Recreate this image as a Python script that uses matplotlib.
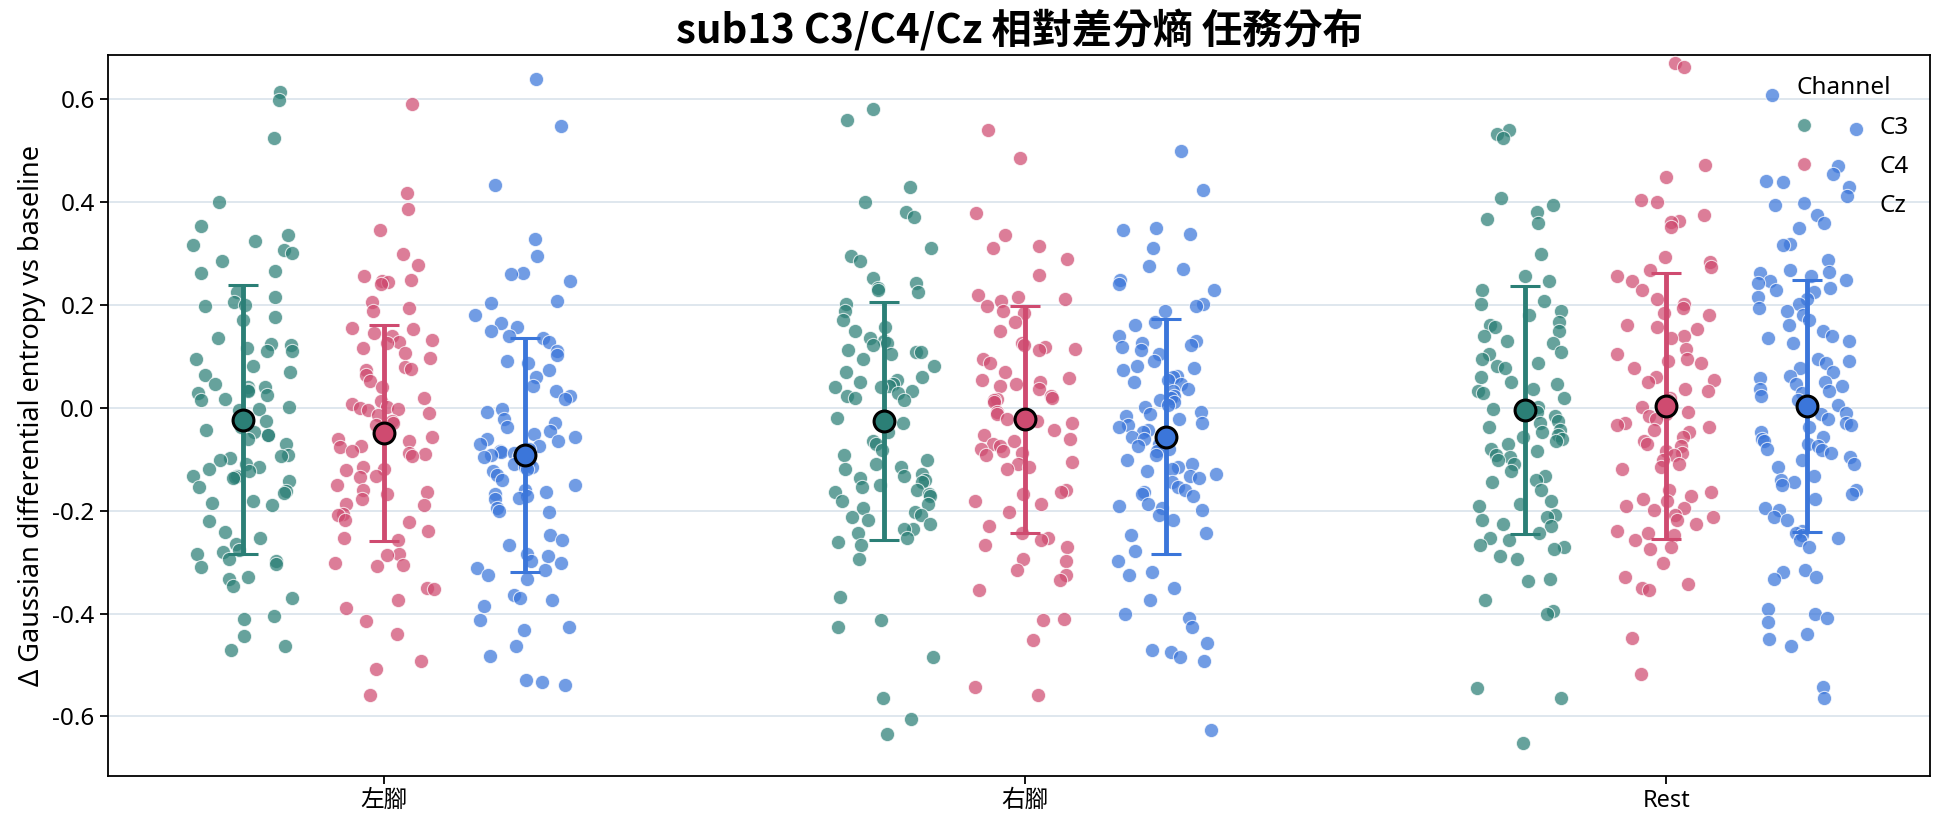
import matplotlib
matplotlib.use('Agg')
import matplotlib.pyplot as plt
from matplotlib.lines import Line2D
import numpy as np

plt.rcParams['font.family'] = ['Noto Sans', 'Noto Sans CJK TC', 'DejaVu Sans']
plt.rcParams['axes.unicode_minus'] = False

tasks = ['左腳', '右腳', 'Rest']
channels = ['C3', 'C4', 'Cz']
colors = {'C3': '#2b7f76', 'C4': '#cf4b70', 'Cz': '#3b76da'}

# values, one list per task/channel
lf_c3 = [0.615, 0.598, 0.524, 0.40, 0.354, 0.336, 0.325, 0.316, 0.307, 0.302, 0.285, 0.267, 0.262, 0.225,
         0.216, 0.205, 0.20, 0.198, 0.176, 0.171, 0.136, 0.124, 0.122, 0.116, 0.111, 0.111, 0.095, 0.082,
         0.07, 0.064, 0.046, 0.04, 0.04, 0.035, 0.033, 0.029, 0.026, 0.017, 0.015, 0.002, -0.003, -0.004,
         -0.025, -0.038, -0.043, -0.047, -0.052, -0.052, -0.06, -0.07, -0.092, -0.094, -0.097, -0.101,
         -0.11, -0.114, -0.119, -0.123, -0.132, -0.132, -0.135, -0.136, -0.143, -0.154, -0.161, -0.165,
         -0.181, -0.185, -0.188, -0.219, -0.242, -0.252, -0.264, -0.277, -0.281, -0.284, -0.293, -0.297,
         -0.304, -0.31, -0.328, -0.333, -0.346, -0.37, -0.404, -0.411, -0.444, -0.462, -0.471]
lf_c4 = [0.591, 0.417, 0.387, 0.345, 0.30, 0.278, 0.256, 0.249, 0.247, 0.245, 0.24, 0.205, 0.194, 0.189,
         0.155, 0.153, 0.145, 0.14, 0.133, 0.129, 0.127, 0.116, 0.106, 0.097, 0.079, 0.076, 0.073, 0.064,
         0.053, 0.04, 0.02, 0.013, 0.008, 0.002, -0.001, -0.003, -0.004, -0.01, -0.013, -0.025, -0.03,
         -0.034, -0.056, -0.06, -0.065, -0.074, -0.076, -0.083, -0.087, -0.09, -0.094, -0.114, -0.119,
         -0.121, -0.132, -0.135, -0.15, -0.159, -0.163, -0.168, -0.177, -0.186, -0.188, -0.206, -0.208,
         -0.217, -0.221, -0.239, -0.252, -0.257, -0.284, -0.286, -0.302, -0.306, -0.308, -0.35, -0.352,
         -0.373, -0.39, -0.415, -0.44, -0.493, -0.507, -0.558]
lf_cz = [0.64, 0.548, 0.433, 0.329, 0.296, 0.263, 0.26, 0.247, 0.207, 0.204, 0.18, 0.165, 0.158, 0.149,
         0.14, 0.136, 0.129, 0.11, 0.102, 0.091, 0.087, 0.073, 0.06, 0.042, 0.033, 0.024, 0.017, -0.003,
         -0.007, -0.021, -0.029, -0.038, -0.045, -0.05, -0.056, -0.06, -0.065, -0.07, -0.074, -0.079,
         -0.083, -0.085, -0.087, -0.09, -0.092, -0.094, -0.096, -0.101, -0.105, -0.11, -0.114, -0.115,
         -0.119, -0.123, -0.13, -0.141, -0.15, -0.159, -0.163, -0.168, -0.172, -0.175, -0.177, -0.194,
         -0.2, -0.203, -0.248, -0.257, -0.266, -0.284, -0.288, -0.297, -0.302, -0.311, -0.315, -0.324,
         -0.333, -0.364, -0.37, -0.373, -0.386, -0.413, -0.426, -0.431, -0.462, -0.483, -0.529, -0.533,
         -0.538]
rf_c3 = [0.582, 0.559, 0.43, 0.40, 0.381, 0.372, 0.31, 0.296, 0.285, 0.252, 0.243, 0.234, 0.229, 0.225,
         0.202, 0.189, 0.171, 0.158, 0.149, 0.136, 0.131, 0.127, 0.122, 0.113, 0.109, 0.109, 0.104, 0.095,
         0.082, 0.069, 0.06, 0.055, 0.051, 0.046, 0.042, 0.04, 0.04, 0.033, 0.029, 0.024, 0.02, 0.015,
         -0.019, -0.029, -0.047, -0.065, -0.07, -0.081, -0.092, -0.101, -0.11, -0.114, -0.119, -0.128,
         -0.132, -0.136, -0.141, -0.145, -0.15, -0.154, -0.159, -0.163, -0.168, -0.172, -0.181, -0.186,
         -0.194, -0.203, -0.208, -0.212, -0.217, -0.226, -0.235, -0.235, -0.244, -0.252, -0.261, -0.266,
         -0.293, -0.368, -0.413, -0.426, -0.484, -0.565, -0.605, -0.634]
rf_c4 = [0.541, 0.485, 0.379, 0.336, 0.314, 0.31, 0.289, 0.258, 0.22, 0.216, 0.211, 0.207, 0.198, 0.189,
         0.185, 0.167, 0.149, 0.127, 0.122, 0.118, 0.115, 0.113, 0.095, 0.087, 0.069, 0.058, 0.055, 0.051,
         0.046, 0.042, 0.037, 0.024, 0.02, 0.017, 0.015, 0.011, -0.007, -0.012, -0.016, -0.021, -0.025,
         -0.029, -0.043, -0.052, -0.061, -0.065, -0.07, -0.074, -0.079, -0.083, -0.087, -0.092, -0.105,
         -0.11, -0.114, -0.119, -0.159, -0.163, -0.168, -0.181, -0.186, -0.203, -0.23, -0.244, -0.252,
         -0.257, -0.266, -0.27, -0.293, -0.297, -0.315, -0.324, -0.335, -0.355, -0.411, -0.413, -0.451,
         -0.542, -0.558]
rf_cz = [0.50, 0.424, 0.35, 0.345, 0.338, 0.311, 0.276, 0.271, 0.249, 0.24, 0.229, 0.202, 0.198, 0.189,
         0.167, 0.162, 0.14, 0.131, 0.127, 0.122, 0.118, 0.113, 0.104, 0.091, 0.082, 0.078, 0.073, 0.062,
         0.06, 0.055, 0.051, 0.046, 0.037, 0.033, 0.024, 0.02, 0.015, 0.011, 0.006, 0.002, -0.007, -0.012,
         -0.016, -0.021, -0.029, -0.034, -0.038, -0.043, -0.047, -0.056, -0.061, -0.07, -0.074, -0.079,
         -0.083, -0.092, -0.101, -0.11, -0.114, -0.119, -0.123, -0.128, -0.132, -0.136, -0.145, -0.154,
         -0.159, -0.163, -0.168, -0.172, -0.186, -0.19, -0.194, -0.199, -0.208, -0.217, -0.244, -0.248,
         -0.279, -0.297, -0.319, -0.324, -0.351, -0.373, -0.40, -0.408, -0.426, -0.458, -0.471, -0.475,
         -0.484, -0.493, -0.627]
rest_c3 = [0.54, 0.533, 0.525, 0.408, 0.394, 0.381, 0.368, 0.359, 0.299, 0.256, 0.247, 0.229, 0.207, 0.202,
           0.189, 0.18, 0.167, 0.162, 0.158, 0.149, 0.14, 0.131, 0.127, 0.109, 0.104, 0.095, 0.087, 0.082,
           0.078, 0.06, 0.051, 0.046, 0.037, 0.033, 0.029, 0.02, 0.002, -0.003, -0.007, -0.016, -0.025,
           -0.029, -0.038, -0.043, -0.047, -0.052, -0.056, -0.061, -0.065, -0.07, -0.079, -0.083, -0.092,
           -0.096, -0.101, -0.11, -0.123, -0.132, -0.141, -0.145, -0.159, -0.181, -0.186, -0.19, -0.208,
           -0.212, -0.217, -0.226, -0.23, -0.244, -0.252, -0.257, -0.266, -0.27, -0.275, -0.288, -0.293,
           -0.333, -0.337, -0.373, -0.395, -0.40, -0.545, -0.565, -0.652]
rest_c4 = [0.671, 0.662, 0.472, 0.448, 0.405, 0.40, 0.376, 0.363, 0.361, 0.352, 0.293, 0.283, 0.274, 0.269,
           0.256, 0.247, 0.229, 0.211, 0.202, 0.194, 0.185, 0.18, 0.162, 0.158, 0.153, 0.14, 0.136, 0.115,
           0.104, 0.095, 0.091, 0.087, 0.078, 0.06, 0.055, 0.051, 0.037, 0.033, 0.02, 0.015, 0.011, 0.002,
           -0.003, -0.007, -0.012, -0.016, -0.021, -0.029, -0.034, -0.038, -0.043, -0.047, -0.056, -0.065,
           -0.07, -0.074, -0.083, -0.087, -0.092, -0.101, -0.11, -0.114, -0.119, -0.159, -0.163, -0.172,
           -0.177, -0.181, -0.19, -0.194, -0.199, -0.208, -0.212, -0.217, -0.226, -0.239, -0.244, -0.248,
           -0.257, -0.27, -0.275, -0.302, -0.328, -0.342, -0.351, -0.355, -0.447, -0.518]
rest_cz = [0.608, 0.543, 0.47, 0.454, 0.442, 0.439, 0.43, 0.412, 0.394, 0.376, 0.359, 0.35, 0.318, 0.316,
           0.287, 0.269, 0.265, 0.263, 0.256, 0.249, 0.247, 0.243, 0.234, 0.229, 0.225, 0.216, 0.211, 0.202,
           0.194, 0.189, 0.18, 0.171, 0.162, 0.149, 0.14, 0.136, 0.131, 0.127, 0.095, 0.091, 0.087, 0.078,
           0.069, 0.062, 0.058, 0.051, 0.046, 0.042, 0.037, 0.033, 0.029, 0.024, 0.015, 0.006, -0.01, -0.012,
           -0.021, -0.029, -0.034, -0.038, -0.047, -0.056, -0.061, -0.065, -0.07, -0.074, -0.079, -0.081,
           -0.087, -0.096, -0.101, -0.11, -0.114, -0.132, -0.141, -0.145, -0.15, -0.159, -0.168, -0.177,
           -0.194, -0.199, -0.212, -0.217, -0.239, -0.244, -0.248, -0.252, -0.257, -0.27, -0.315, -0.319,
           -0.328, -0.333, -0.391, -0.40, -0.408, -0.417, -0.44, -0.449, -0.462, -0.542, -0.565]

points = {
    ('左腳', 'C3'): lf_c3, ('左腳', 'C4'): lf_c4, ('左腳', 'Cz'): lf_cz,
    ('右腳', 'C3'): rf_c3, ('右腳', 'C4'): rf_c4, ('右腳', 'Cz'): rf_cz,
    ('Rest', 'C3'): rest_c3, ('Rest', 'C4'): rest_c4, ('Rest', 'Cz'): rest_cz,
}

# mean and SD markers (rows: tasks, cols: channels)
means = [[-0.023, -0.049, -0.092],
         [-0.025, -0.022, -0.056],
         [-0.004, 0.004, 0.004]]
sds = [[0.262, 0.210, 0.228],
       [0.231, 0.221, 0.229],
       [0.242, 0.259, 0.245]]

fig = plt.figure(figsize=(19.44, 8.27), dpi=100)
ax = fig.add_axes([0.0555, 0.0615, 0.9375, 0.8725])

offsets = [-0.22, 0.0, 0.22]
rng = np.random.default_rng(13)
for i, task in enumerate(tasks):
    for j, ch in enumerate(channels):
        yy = np.array(points[(task, ch)])
        xx = i + offsets[j] + rng.uniform(-0.078, 0.078, len(yy))
        ax.scatter(xx, yy, s=105, color=colors[ch], alpha=0.72,
                   edgecolors='white', linewidths=0.8, zorder=3)

for i, task in enumerate(tasks):
    for j, ch in enumerate(channels):
        ax.errorbar(i + offsets[j], means[i][j], yerr=sds[i][j], fmt='o',
                    color=colors[ch], ms=15, mfc=colors[ch], mec='black', mew=2.2,
                    elinewidth=3.5, capsize=11, capthick=2.5, zorder=5)

ax.set_xlim(-0.431, 2.412)
ax.set_ylim(-0.716, 0.687)
ax.set_xticks(range(len(tasks)))
ax.set_xticklabels(tasks, fontsize=17)
ax.set_yticks([-0.6, -0.4, -0.2, 0.0, 0.2, 0.4, 0.6])
ax.set_yticklabels(['-0.6', '-0.4', '-0.2', '0.0', '0.2', '0.4', '0.6'], fontsize=17.5)
ax.tick_params(length=6, width=1.3)
ax.yaxis.grid(True, color='#d6e0ea', lw=1.1, zorder=0)
ax.set_axisbelow(True)
for sp in ax.spines.values():
    sp.set_linewidth(1.3)
    sp.set_color('black')

ax.set_ylabel('Δ Gaussian differential entropy vs baseline', fontsize=19.5, labelpad=5)
ax.set_title('sub13 C3/C4/Cz 相對差分熵 任務分布', fontsize=29, fontweight='bold', pad=8,
             family=['Noto Sans CJK TC', 'DejaVu Sans'])

handles = [Line2D([], [], marker='o', ls='', color=colors[c], alpha=0.72, ms=10,
                  mec='white', mew=0.8) for c in channels]
leg = ax.legend(handles, channels, title='Channel', loc='upper right', frameon=False,
                fontsize=17.5, title_fontsize=17.5, handletextpad=2.1, labelspacing=0.62,
                borderaxespad=0.5)

fig.savefig('out.png', dpi=100)
